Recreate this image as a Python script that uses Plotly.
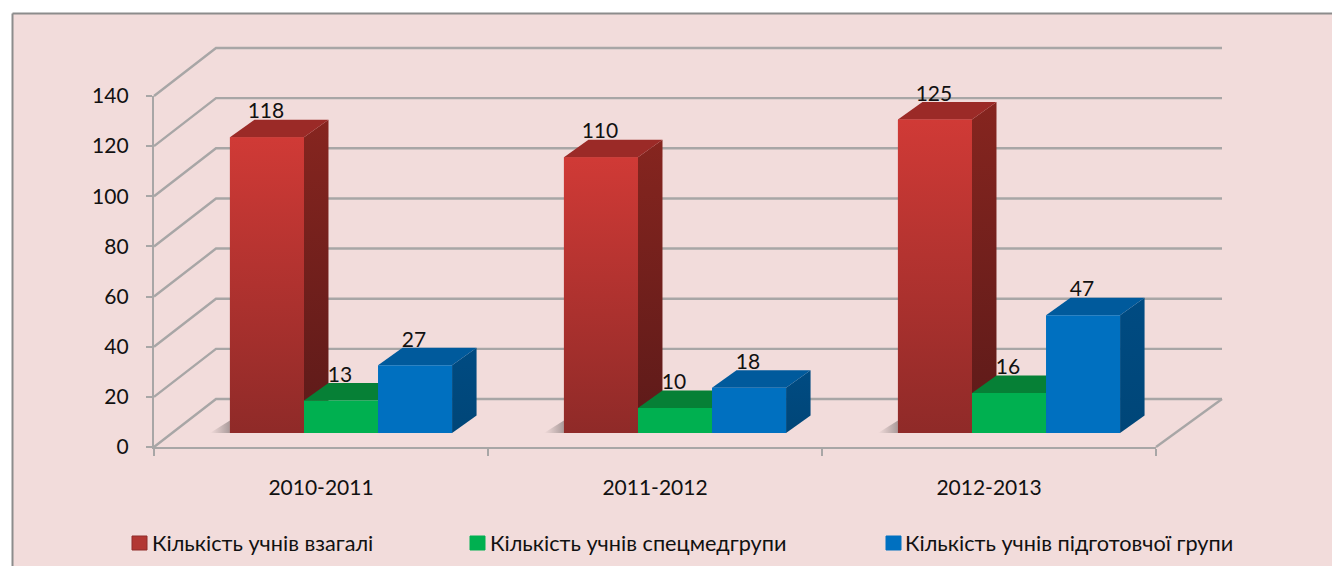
import plotly.graph_objects as go

categories = ["2010-2011", "2011-2012", "2012-2013"]
series_names = ["Кількість учнів взагалі", "Кількість учнів спецмедгрупи", "Кількість учнів підготовчої групи"]
total_students = [118, 110, 125]
medical_group = [13, 10, 16]
prep_group = [27, 18, 47]
y_ticks = [0, 20, 40, 60, 80, 100, 120, 140]

FONT = "Lato"
W, H = 1332, 566
X0, X1, Y0, Y1 = 154, 1156, 447, 96          # pixel box of the front axes
PXX = (X1 - X0) / 3
PXY = (Y0 - Y1) / 140
BARGAP = 0.335
BW = (1 - BARGAP) / 3
WALL_DX, WALL_DX_R, WALL_DY = 62 / PXX, 66 / PXX, 48 / PXY   # depth of the walls, in data units
BAR_DX, BAR_DY = 24.5 / PXX, 17.5 / PXY      # depth of each bar, in data units
SHIFT_X, SHIFT_Y = 20, 14                    # bars stand inside the floor

def x_dom(a, b, anchor, shift=0):
    o = X0 + shift
    return dict(domain=[a / W, b / W], range=[-0.5 + (a - o) / PXX, -0.5 + (b - o) / PXX],
                visible=False, anchor=anchor, fixedrange=True, automargin=False)

def y_dom(bot, top, anchor, shift=0):
    o = Y0 - shift
    return dict(domain=[1 - bot / H, 1 - top / H], range=[(o - bot) / PXY, (o - top) / PXY],
                visible=False, anchor=anchor, fixedrange=True, automargin=False)

fig = go.Figure()
GRID = "#a8a6a6"

fig.add_trace(go.Scatter(x=[0, 1, 2], y=[0, 0, 0], mode="none", showlegend=False, hoverinfo="skip"))

for v in y_ticks:
    fig.add_trace(go.Scatter(
        x=[-0.5, -0.5 + WALL_DX, 2.5 + WALL_DX_R], y=[v, v + WALL_DY, v + WALL_DY],
        mode="lines", line=dict(color=GRID, width=2.4), xaxis="x2", yaxis="y2",
        showlegend=False, hoverinfo="skip"))
fig.add_trace(go.Scatter(
    x=[2.5 + WALL_DX_R, 2.5], y=[WALL_DY, 0], mode="lines",
    line=dict(color=GRID, width=2.4), xaxis="x2", yaxis="y2", showlegend=False, hoverinfo="skip"))

series = [
    (total_students, "#ae3330", ("#8f2a28", "#d03a36"), "#9b2a27", ("#5c1a19", "#86251f")),
    (medical_group, "#00b050", None, "#068036", ("#056b2e", "#068036")),
    (prep_group, "#0070c0", None, "#005a9c", ("#004678", "#004b82")),
]

for i in range(3):
    left = i - 1.5 * BW
    fig.add_trace(go.Scatter(
        x=[left - 20 / PXX, left, left], y=[0, 5, 0], mode="lines", fill="toself", line=dict(width=0),
        fillgradient=dict(type="horizontal", colorscale=[[0, "rgba(120,110,110,0)"], [1, "rgba(110,100,100,0.55)"]]),
        xaxis="x3", yaxis="y3", showlegend=False, hoverinfo="skip"))

for s, (vals, _, _, top_c, side) in enumerate(series):
    for i, v in enumerate(vals):
        l = i + (s - 1.5) * BW
        r = l + BW
        fig.add_trace(go.Scatter(
            x=[r, r + BAR_DX, r + BAR_DX, r], y=[0, BAR_DY, v + BAR_DY, v],
            mode="lines", fill="toself", line=dict(width=0),
            fillgradient=dict(type="vertical", colorscale=[[0, side[0]], [1, side[1]]]),
            xaxis="x3", yaxis="y3", showlegend=False, hoverinfo="skip"))
        fig.add_trace(go.Scatter(
            x=[l, l + BAR_DX, r + BAR_DX, r], y=[v, v + BAR_DY, v + BAR_DY, v],
            mode="lines", fill="toself", fillcolor=top_c, line=dict(width=0),
            xaxis="x3", yaxis="y3", showlegend=False, hoverinfo="skip"))

for s, (vals, col, _, _, _) in enumerate(series):
    fig.add_trace(go.Bar(x=[0, 1, 2], y=vals, name=series_names[s], marker=dict(color=col, line=dict(width=0)),
                         xaxis="x4", yaxis="y4", showlegend=False))

for i, v in enumerate(series[0][0]):
    l = i - 1.5 * BW
    fig.add_trace(go.Scatter(
        x=[l, l, l + BW, l + BW], y=[0, v, v, 0], mode="lines", fill="toself", line=dict(width=0),
        fillgradient=dict(type="vertical", colorscale=[[0, series[0][2][0]], [1, series[0][2][1]]]),
        xaxis="x4", yaxis="y4", showlegend=False, hoverinfo="skip"))

for s, (vals, *_ ) in enumerate(series):
    fig.add_trace(go.Scatter(
        x=[i + (s - 1) * BW - 1 / PXX for i in range(3)], y=[v + 24 / PXY for v in vals],
        text=[str(v) for v in vals], mode="text", textposition="middle center",
        textfont=dict(family=FONT, size=21, color="#111111"),
        xaxis="x4", yaxis="y4", showlegend=False, hoverinfo="skip"))

LEG_Y = 543
FRAME_C = "#8c8c8c"
legend_items = [(132, 152, "#b23733", "#8f2d2b"), (470, 490, "#00b050", "#00b050"), (886, 905, "#0070c0", "#0070c0")]
FX, FY = 12.5 / W, 1 - 13.5 / H
shapes = [
    dict(type="rect", xref="paper", yref="paper", x0=FX, x1=1, y0=0, y1=FY, fillcolor="#f2dcdb",
         line=dict(width=0), layer="below"),
    dict(type="line", xref="paper", yref="paper", x0=FX, x1=1, y0=FY, y1=FY, line=dict(color=FRAME_C, width=2), layer="below"),
    dict(type="line", xref="paper", yref="paper", x0=FX, x1=FX, y0=0, y1=FY, line=dict(color=FRAME_C, width=2), layer="below"),
]
annotations = []
for (sx, tx, c, lc), name in zip(legend_items, series_names):
    shapes.append(dict(type="rect", xref="paper", yref="paper", x0=sx / W, x1=(sx + 15) / W,
                       y0=1 - (LEG_Y + 7) / H, y1=1 - (LEG_Y - 7) / H, fillcolor=c, line=dict(color=lc, width=1)))
    annotations.append(dict(xref="paper", yref="paper", x=tx / W, y=1 - LEG_Y / H, text=name, showarrow=False,
                            xanchor="left", yanchor="middle", xshift=-2,
                            font=dict(family=FONT, size=21.7, color="#111111")))

fig.update_layout(
    width=W, height=H, margin=dict(l=0, r=0, t=0, b=0), autosize=False,
    paper_bgcolor="#ffffff", plot_bgcolor="rgba(0,0,0,0)",
    barmode="group", bargap=BARGAP, bargroupgap=0, showlegend=False,
    font=dict(family=FONT, size=21, color="#111111"),
    shapes=shapes, annotations=annotations,
    xaxis=dict(domain=[X0 / W, X1 / W], range=[-0.5, 2.5], tickmode="array", tickvals=[0, 1, 2],
               ticktext=categories, ticks="", showgrid=False, zeroline=False, fixedrange=True, automargin=False,
               showline=True, linecolor=GRID, linewidth=2.4, ticklabelstandoff=21,
               minor=dict(tickmode="array", tickvals=[-0.5, 0.5, 1.5, 2.5], ticks="outside",
                          ticklen=7, tickwidth=2, tickcolor=GRID, showgrid=False),
               tickfont=dict(family=FONT, size=21, color="#111111")),
    yaxis=dict(domain=[1 - Y0 / H, 1 - Y1 / H], range=[0, 140], tickmode="array", tickvals=y_ticks,
               ticks="outside", ticklen=6, tickwidth=2, tickcolor=GRID, showgrid=False, zeroline=False,
               fixedrange=True, automargin=False, showline=True, linecolor=GRID, linewidth=2.4, ticklabelstandoff=13,
               tickfont=dict(family=FONT, size=21, color="#111111")),
    xaxis2=x_dom(140, 1240, "y2"), yaxis2=y_dom(465, 30, "x2"),
    xaxis3=x_dom(X0, 1260, "y3", SHIFT_X), yaxis3=y_dom(Y0, 20, "x3", SHIFT_Y),
    xaxis4=x_dom(X0, 1260, "y4", SHIFT_X), yaxis4=y_dom(Y0, 20, "x4", SHIFT_Y),
)
fig.update_traces(cliponaxis=False, selector=dict(type="bar"))

fig.write_html("out.html", post_script="document.body.style.margin='0';document.body.style.overflow='hidden';",
               config=dict(displayModeBar=False))
